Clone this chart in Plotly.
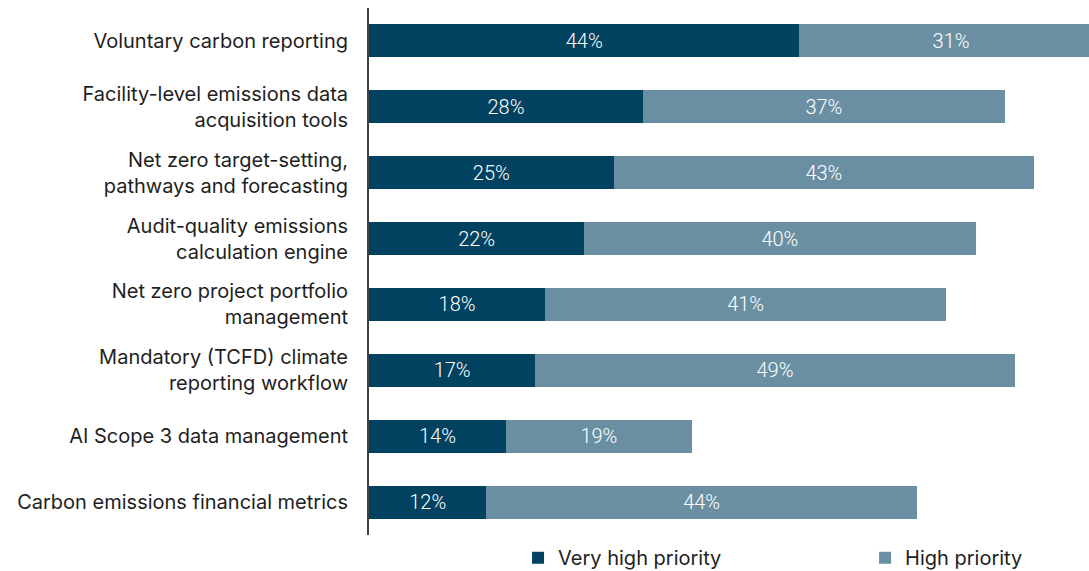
import plotly.graph_objects as go

categories = [
    "Voluntary carbon reporting",
    "Facility-level emissions data<br>acquisition tools",
    "Net zero target-setting,<br>pathways and forecasting",
    "Audit-quality emissions<br>calculation engine",
    "Net zero project portfolio<br>management",
    "Mandatory (TCFD) climate<br>reporting workflow",
    "AI Scope 3 data management",
    "Carbon emissions financial metrics",
]
very_high = [44, 28, 25, 22, 18, 17, 14, 12]
high = [31, 37, 43, 40, 41, 49, 19, 44]

dark = "#00425F"
light = "#6B8FA2"
label_font = dict(color="white", size=20, family="Roboto, sans-serif", weight=300)

fig = go.Figure()
fig.add_trace(go.Bar(
    y=categories, x=very_high, orientation="h", name="Very high priority",
    marker=dict(color=dark, line=dict(width=0)),
    text=[f"{v}%" for v in very_high], textposition="inside",
    insidetextanchor="middle", textfont=label_font, legend="legend",
))
fig.add_trace(go.Bar(
    y=categories, x=high, orientation="h", name="High priority",
    marker=dict(color=light, line=dict(width=0)),
    text=[f"{v}%" for v in high], textposition="inside",
    insidetextanchor="middle", textfont=label_font, legend="legend2",
))

legend_common = dict(orientation="h", yanchor="middle", y=-0.043, xanchor="left",
                     itemwidth=30, font=dict(size=20, color="#222222"),
                     bgcolor="rgba(0,0,0,0)")

fig.update_layout(
    barmode="stack", bargap=0.5, showlegend=True,
    width=1089, height=571,
    margin=dict(l=369, r=0, t=8, b=36, autoexpand=False),
    plot_bgcolor="white", paper_bgcolor="white",
    font=dict(family="Inter, Lato, sans-serif", color="#1e1e1e", size=20),
    xaxis=dict(range=[0, 73.6], showgrid=False, showticklabels=False, zeroline=False,
               showline=False, fixedrange=True, automargin=False),
    yaxis=dict(autorange="reversed", showgrid=False, showline=True, linecolor="#404040",
               linewidth=2, ticks="", automargin=False, ticklabelstandoff=15,
               tickfont=dict(size=20, color="#1e1e1e"), fixedrange=True),
    legend=dict(x=0.207, **legend_common),
    legend2=dict(x=0.689, **legend_common),
    uniformtext=dict(mode="show", minsize=10),
)

fig.write_html("out.html", config={"displayModeBar": False},
               post_script="document.body.style.margin='0px';")
